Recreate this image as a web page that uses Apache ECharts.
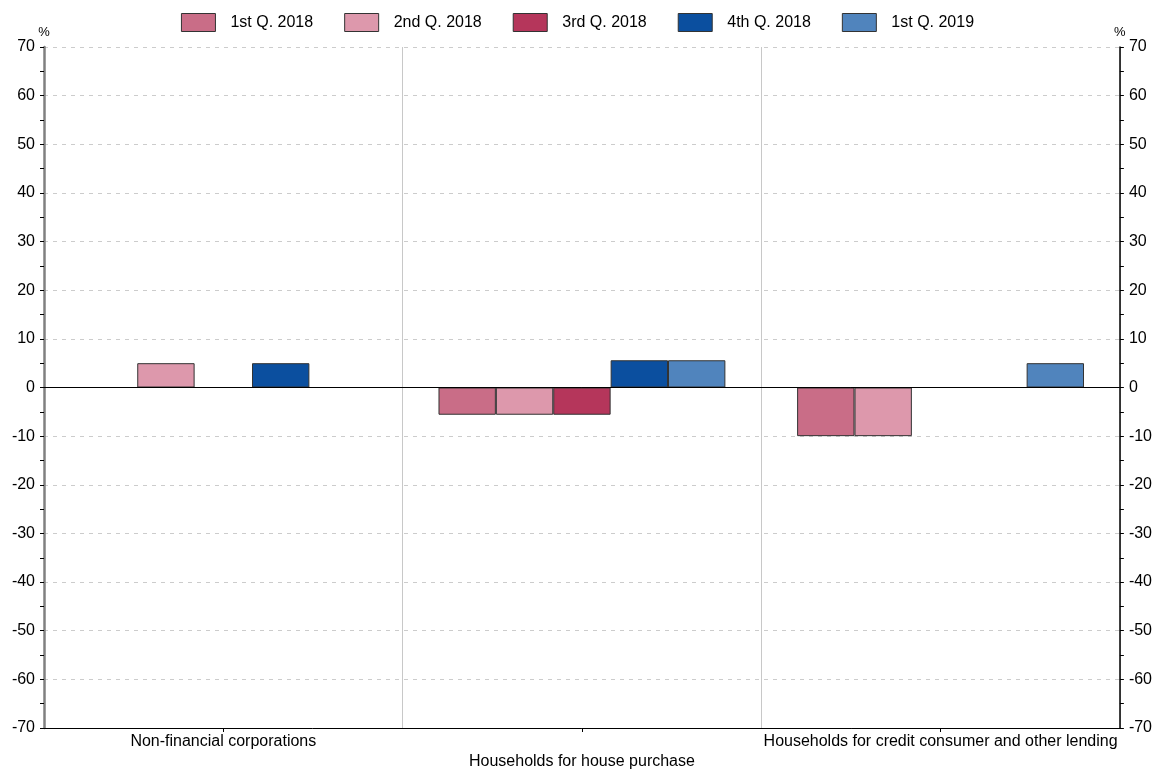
<!DOCTYPE html>
<html>
<head>
<meta charset="utf-8">
<script src="https://cdn.jsdelivr.net/npm/echarts@6/dist/echarts.min.js"></script>
<style>html,body{margin:0;padding:0;background:#fff}#c{width:1155px;height:772px}</style>
</head>
<body>
<div id="c"></div>
<script>
const categories = ['Non-financial corporations', 'Households for house purchase', 'Households for credit consumer and other lending'];
const seriesNames = ['1st Q. 2018', '2nd Q. 2018', '3rd Q. 2018', '4th Q. 2018', '1st Q. 2019'];
const q1_2018 = [0, -5.6, -10];
const q2_2018 = [5, -5.6, -10];
const q3_2018 = [0, -5.6, 0];
const q4_2018 = [5, 5.6, 0];
const q1_2019 = [0, 5.6, 5];
const colors = ['#c96d87', '#dd98ac', '#b5365b', '#0b4f9f', '#5084bd'];

const allData = [q1_2018, q2_2018, q3_2018, q4_2018, q1_2019];
const font = 'Liberation Sans, Arial, sans-serif';

const yAxisBase = {
  type: 'value', min: -70, max: 70, interval: 10,
  name: '%', nameLocation: 'end', nameGap: 0,
  nameTextStyle: { fontFamily: font, fontSize: 13, color: '#000', verticalAlign: 'bottom' },
  axisLabel: { fontFamily: font, fontSize: 16, color: '#000', margin: 9 },
  axisTick: { show: true, inside: false, length: 4, lineStyle: { color: '#000' } },
  minorTick: { show: true, splitNumber: 2, length: 4, lineStyle: { color: '#000' } },
  splitLine: { show: true, lineStyle: { color: '#cccccc', type: [4, 5], width: 1 } }
};

const chart = echarts.init(document.getElementById('c'));
chart.setOption({
  animation: false,
  color: colors,
  legend: {
    top: 8, left: 'center', icon: 'rect',
    itemWidth: 34, itemHeight: 18, itemGap: 31,
    itemStyle: { borderColor: '#333', borderWidth: 1 },
    textStyle: { fontFamily: font, fontSize: 16, color: '#000', padding: [0, 0, 0, 10] },
    data: seriesNames
  },
  grid: { left: 44, right: 35, top: 47, bottom: 41, containLabel: false },
  xAxis: {
    type: 'category', data: categories,
    axisLine: { onZero: false, lineStyle: { color: '#000', width: 1 } },
    axisTick: { show: true, alignWithLabel: true, length: 4, lineStyle: { color: '#000' } },
    axisLabel: {
      interval: 0, fontFamily: font, fontSize: 16, color: '#000', margin: 4, lineHeight: 20,
      formatter: function (v, i) { return i === 1 ? '\n' + v : v; }
    },
    splitLine: { show: true, lineStyle: { color: '#c8c8c8', width: 1 } }
  },
  yAxis: [
    Object.assign({}, yAxisBase, { position: 'left', axisLine: { show: true, lineStyle: { color: '#808080', width: 2.5 } } }),
    Object.assign({}, yAxisBase, { position: 'right', axisLine: { show: true, lineStyle: { color: '#000', width: 1.5 } }, splitLine: { show: false } })
  ],
  series: seriesNames.map(function (n, i) {
    const s = {
      name: n, type: 'bar', data: allData[i], yAxisIndex: 0,
      barGap: 0, barCategoryGap: '20%',
      itemStyle: { color: colors[i], borderColor: '#333', borderWidth: 1 }
    };
    if (i === 0) {
      s.markLine = {
        silent: true, symbol: 'none', label: { show: false },
        lineStyle: { color: '#000', width: 1, type: 'solid' },
        data: [{ yAxis: 0 }]
      };
    }
    return s;
  })
});
</script>
</body>
</html>
